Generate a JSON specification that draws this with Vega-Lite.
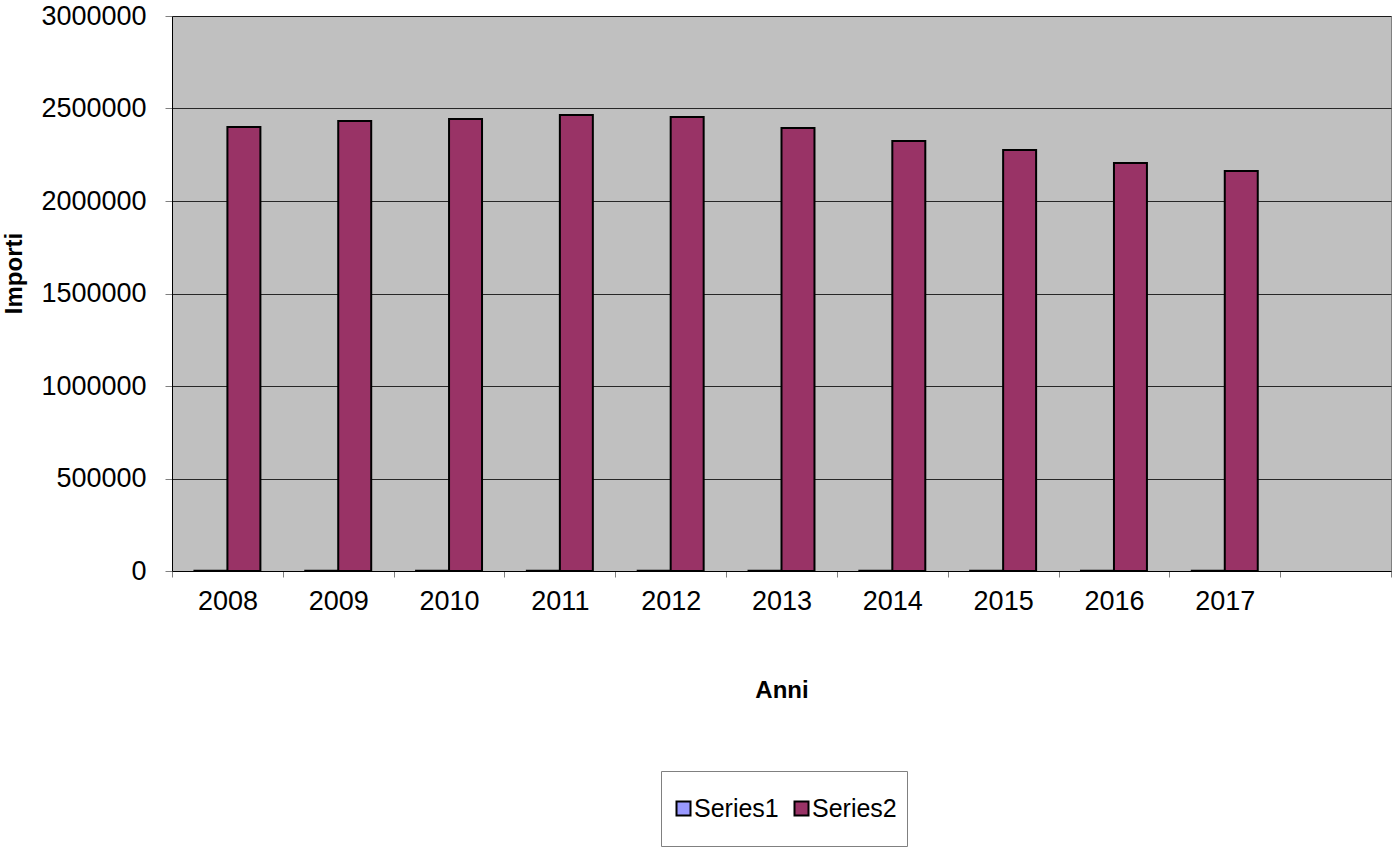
{
  "$schema": "https://vega.github.io/schema/vega-lite/v6.json",
  "width": 1219,
  "height": 555,
  "autosize": {"type": "none"},
  "padding": {"left": 172, "top": 16, "right": 4, "bottom": 278},
  "background": "white",
  "config": {
    "font": "Liberation Sans",
    "view": {"fill": "#C0C0C0", "stroke": "#808080", "strokeWidth": 1}
  },
  "data": {
    "values": [
      {"year": "2008", "series": "Series1", "value": 1000},
      {"year": "2009", "series": "Series1", "value": 1000},
      {"year": "2010", "series": "Series1", "value": 1000},
      {"year": "2011", "series": "Series1", "value": 1000},
      {"year": "2012", "series": "Series1", "value": 1000},
      {"year": "2013", "series": "Series1", "value": 1000},
      {"year": "2014", "series": "Series1", "value": 1000},
      {"year": "2015", "series": "Series1", "value": 1000},
      {"year": "2016", "series": "Series1", "value": 1000},
      {"year": "2017", "series": "Series1", "value": 1000},
      {"year": "2008", "series": "Series2", "value": 2400000},
      {"year": "2009", "series": "Series2", "value": 2432000},
      {"year": "2010", "series": "Series2", "value": 2443000},
      {"year": "2011", "series": "Series2", "value": 2465000},
      {"year": "2012", "series": "Series2", "value": 2454000},
      {"year": "2013", "series": "Series2", "value": 2395000},
      {"year": "2014", "series": "Series2", "value": 2324000},
      {"year": "2015", "series": "Series2", "value": 2276000},
      {"year": "2016", "series": "Series2", "value": 2205000},
      {"year": "2017", "series": "Series2", "value": 2162000}
    ]
  },
  "mark": {"type": "bar", "stroke": "black", "strokeWidth": 2},
  "encoding": {
    "x": {
      "field": "year",
      "type": "nominal",
      "scale": {
        "domain": ["2008", "2009", "2010", "2011", "2012", "2013", "2014", "2015", "2016", "2017", " "],
        "paddingInner": 0,
        "paddingOuter": 0
      },
      "axis": {
        "title": "Anni",
        "titleFontSize": 24,
        "titleFontWeight": "bold",
        "titleColor": "black",
        "titleY": 119,
        "titleBaseline": "middle",
        "labelAngle": 0,
        "labelFontSize": 27,
        "labelColor": "black",
        "labelPadding": 11,
        "tickBand": "extent",
        "tickColor": "#808080",
        "tickSize": 6,
        "domainColor": "black",
        "domainWidth": 1,
        "grid": false
      }
    },
    "xOffset": {"field": "series", "type": "nominal", "scale": {"paddingInner": 0, "paddingOuter": 0.68}},
    "y": {
      "field": "value",
      "type": "quantitative",
      "scale": {"domain": [0, 3000000], "nice": false},
      "axis": {
        "title": "Importi",
        "titleFontSize": 24,
        "titleFontWeight": "bold",
        "titleColor": "black",
        "titleX": -158,
        "titleY": 257,
        "titleBaseline": "middle",
        "values": [0, 500000, 1000000, 1500000, 2000000, 2500000, 3000000],
        "format": "d",
        "labelFontSize": 27,
        "labelColor": "black",
        "labelPadding": 19,
        "tickColor": "#808080",
        "tickSize": 7,
        "domainColor": "black",
        "grid": true,
        "gridColor": "#000000",
        "gridWidth": 0.8
      }
    },
    "color": {
      "field": "series",
      "type": "nominal",
      "scale": {"domain": ["Series1", "Series2"], "range": ["#9999FF", "#993366"]},
      "legend": {
        "title": " ",
        "titleFontSize": 8,
        "titlePadding": 7,
        "titleOrient": "top",
        "orient": "none",
        "legendX": 489,
        "legendY": 755,
        "direction": "horizontal",
        "symbolType": "M-1,-1H1V1H-1ZM0,3.35",
        "symbolSize": 196,
        "symbolStrokeColor": "black",
        "symbolStrokeWidth": 2,
        "labelFontSize": 25,
        "labelColor": "black",
        "labelOffset": -2,
        "columnPadding": 10,
        "padding": 10,
        "strokeColor": "#808080",
        "fillColor": "white"
      }
    }
  }
}
